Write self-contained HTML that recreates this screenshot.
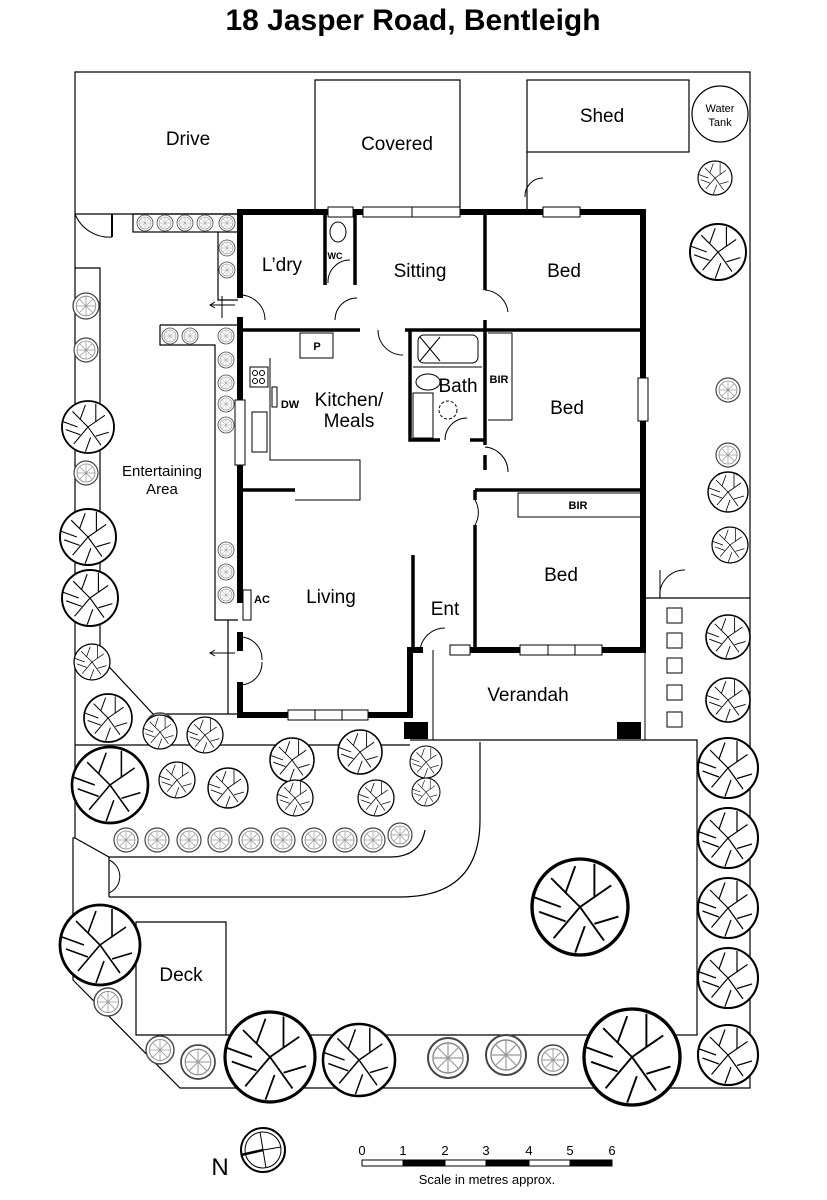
<!DOCTYPE html>
<html><head><meta charset="utf-8"><style>
body{margin:0;background:#fff}
svg{display:block}
text{font-family:"Liberation Sans",Arial,sans-serif;fill:#000}
</style></head><body>
<svg width="827" height="1200" viewBox="0 0 827 1200" xmlns="http://www.w3.org/2000/svg">
<defs>
<g id="tr"><circle r="1" fill="#fff" stroke="#000" stroke-width="0.07"/><path d="M0,0 L-0.6,-0.6 M0,0 L0.65,-0.45 M0,0 L0.5,0.7 M0,0 L-0.55,0.65 M-0.3,-0.3 L-0.1,-0.85 M0.3,0.35 L0.8,0.2 M-0.3,0.3 L-0.85,0.1 M0.3,-0.2 L0.3,-0.9 M0.1,0.4 L-0.1,0.95 M-0.4,0 L-0.95,-0.2" stroke="#000" stroke-width="0.04" fill="none"/></g>
<g id="ts"><circle r="1" fill="#fff" stroke="#444" stroke-width="0.1"/><circle r="0.75" fill="none" stroke="#888" stroke-width="0.07"/><path d="M0,-0.7 L0,0.7 M-0.7,0 L0.7,0 M-0.5,-0.5 L0.5,0.5 M0.5,-0.5 L-0.5,0.5" stroke="#999" stroke-width="0.06"/></g>
</defs>
<text x="413" y="30" font-size="30" font-weight="bold" text-anchor="middle">18 Jasper Road, Bentleigh</text>

<g fill="none" stroke="#000" stroke-width="1.2">
<polyline points="73,980 73,838 75,838 75,72 750,72 750,598"/>
<polyline points="750,598 750,1088 180,1088 73,980"/>
<line x1="645" y1="598" x2="750" y2="598"/>
<polyline points="315,212 315,80 460,80 460,212"/>
<rect x="527" y="80" width="162" height="72"/>
<polyline points="527,152 527,212"/>
<circle cx="720" cy="114" r="28"/>
<polyline points="75,214 112,214"/>
<line x1="112" y1="214" x2="112" y2="237" stroke-width="2"/>
<polyline points="112,214 240,214"/>
<rect x="133" y="214" width="105" height="18"/>
<polyline points="218,232 218,300 238,300"/>
<polyline points="160,325 160,345 215,345 215,620 238,620"/>
<line x1="160" y1="325" x2="238" y2="325"/>
<polyline points="75,268 100,268 100,657 153,714 240,714"/>
<line x1="228" y1="620" x2="228" y2="714"/>
<polyline points="75,745 410,745"/>
<polyline points="410,740 697,740 697,1035 136,1035 136,922 226,922 226,1035"/>
<path d="M109,897 L400,897 Q480,897 480,820 L480,742"/>
<path d="M75,838 L109,857 L390,857 Q420,857 425,830"/>
<line x1="109" y1="857" x2="109" y2="897"/>
</g>

<g stroke="#000" stroke-width="6" fill="none" stroke-linecap="square">
<polyline points="240,212 643,212 643,650 470,650"/>
<polyline points="240,212 240,295"/>
<polyline points="240,320 240,400"/>
<polyline points="240,465 240,600"/>
<polyline points="240,635 240,648"/>
<polyline points="240,685 240,715 410,715 410,650 420,650"/>
<polyline points="455,650 470,650"/>
</g>
<g stroke="#000" stroke-width="3.5" fill="none">
<line x1="240" y1="330" x2="360" y2="330"/>
<line x1="405" y1="330" x2="643" y2="330"/>
<line x1="325" y1="215" x2="325" y2="285"/>
<line x1="355" y1="215" x2="355" y2="285"/>
<line x1="485" y1="212" x2="485" y2="290"/>
<line x1="485" y1="320" x2="485" y2="445"/>
<polyline points="410,330 410,440 440,440"/>
<polyline points="470,440 485,440"/>
<line x1="485" y1="455" x2="485" y2="470"/>
<line x1="475" y1="490" x2="643" y2="490"/>
<line x1="475" y1="490" x2="475" y2="500"/>
<line x1="475" y1="525" x2="475" y2="650"/>
<line x1="240" y1="490" x2="295" y2="490"/>
<line x1="413" y1="555" x2="413" y2="650"/>
</g>
<g fill="#fff" stroke="#000" stroke-width="1">
<rect x="328" y="207" width="25" height="10"/>
<rect x="363" y="207" width="97" height="10"/>
<rect x="543" y="207" width="37" height="10"/>
<rect x="638" y="378" width="10" height="43"/>
<rect x="235" y="400" width="10" height="65"/>
<rect x="288" y="710" width="80" height="10"/>
<rect x="520" y="645" width="82" height="10"/>
<rect x="450" y="645" width="20" height="10"/>
</g>
<g stroke="#000" stroke-width="1" fill="none">
<line x1="412" y1="207" x2="412" y2="217"/>
<line x1="315" y1="710" x2="315" y2="720"/><line x1="342" y1="710" x2="342" y2="720"/>
<line x1="548" y1="645" x2="548" y2="655"/><line x1="575" y1="645" x2="575" y2="655"/>
<path d="M240,295 A25,25 0 0 1 265,320"/>
<path d="M335,320 A22,22 0 0 1 357,298"/>
<path d="M378,330 A25,25 0 0 0 403,355"/>
<path d="M485,290 A25,25 0 0 1 508,312"/>
<path d="M445,440 A22,22 0 0 1 467,418"/>
<path d="M485,447 A25,25 0 0 1 508,472"/>
<path d="M475,500 A25,25 0 0 1 475,525"/>
<path d="M420,650 A25,25 0 0 1 445,628"/>
<path d="M240,637 A22,22 0 0 1 262,660"/>
<path d="M240,685 A22,22 0 0 0 262,662"/>
<path d="M328,283 A22,22 0 0 1 350,260"/>
<path d="M75,214 A37,37 0 0 0 112,237"/>
<path d="M660,598 A25,25 0 0 1 685,570 M660,570 L660,598"/>
<path d="M109,860 A18,18 0 0 1 109,893"/>
<path d="M525,197 A18,18 0 0 1 543,178"/>
<ellipse cx="338" cy="232" rx="8" ry="10"/>
<rect x="300" y="333" width="33" height="25"/>
<polyline points="270,358 270,460 360,460 360,500 295,500"/>
<line x1="333" y1="333" x2="333" y2="355"/>
<rect x="250" y="367" width="18" height="20"/>
<circle cx="255" cy="373" r="2.5"/><circle cx="262" cy="373" r="2.5"/><circle cx="255" cy="381" r="2.5"/><circle cx="262" cy="381" r="2.5"/>
<rect x="252" y="412" width="15" height="40"/>
<rect x="272" y="387" width="5" height="20"/>
<rect x="418" y="335" width="60" height="28" rx="6"/>
<line x1="420" y1="337" x2="440" y2="361"/><line x1="440" y1="337" x2="420" y2="361"/>
<line x1="413" y1="367" x2="482" y2="367"/>
<ellipse cx="428" cy="382" rx="12" ry="8"/>
<rect x="413" y="393" width="20" height="45"/>
<circle cx="448" cy="410" r="9" stroke-dasharray="3,2"/>
<polyline points="488,333 512,333 512,420 488,420"/>
<rect x="518" y="493" width="123" height="24"/>
<rect x="243" y="590" width="8" height="30"/>
<polyline points="433,650 433,740"/>
<polyline points="645,600 645,740"/>
</g>
<rect x="404" y="722" width="24" height="17" fill="#000"/>
<rect x="617" y="722" width="24" height="17" fill="#000"/>
<g fill="#fff" stroke="#000"><rect x="667" y="608" width="15" height="15"/><rect x="667" y="633" width="15" height="15"/><rect x="667" y="658" width="15" height="15"/><rect x="667" y="685" width="15" height="15"/><rect x="667" y="712" width="15" height="15"/></g>
<g stroke="#000" fill="none"><path d="M210,305 L235,305 M215,302 L210,305 L215,308"/><path d="M210,653 L235,653 M215,650 L210,653 L215,656"/><line x1="222" y1="296" x2="222" y2="318"/></g>

<g>
<use href="#ts" transform="translate(145,223) scale(8)"/><use href="#ts" transform="translate(165,223) scale(8)"/><use href="#ts" transform="translate(185,223) scale(8)"/><use href="#ts" transform="translate(205,223) scale(8)"/><use href="#ts" transform="translate(227,223) scale(8)"/>
<use href="#ts" transform="translate(227,248) scale(8)"/><use href="#ts" transform="translate(227,270) scale(8)"/>
<use href="#ts" transform="translate(170,336) scale(8)"/><use href="#ts" transform="translate(190,336) scale(8)"/><use href="#ts" transform="translate(226,336) scale(8)"/>
<use href="#ts" transform="translate(226,360) scale(8)"/><use href="#ts" transform="translate(226,383) scale(8)"/><use href="#ts" transform="translate(226,404) scale(8)"/><use href="#ts" transform="translate(226,425) scale(8)"/>
<use href="#ts" transform="translate(226,550) scale(8)"/><use href="#ts" transform="translate(226,572) scale(8)"/><use href="#ts" transform="translate(226,595) scale(8)"/>
<use href="#ts" transform="translate(86,306) scale(13)"/><use href="#ts" transform="translate(86,350) scale(12)"/><use href="#ts" transform="translate(86,473) scale(12)"/>
<use href="#ts" transform="translate(160,728) scale(15)"/><use href="#ts" transform="translate(728,390) scale(12)"/><use href="#ts" transform="translate(728,455) scale(12)"/>
<use href="#ts" transform="translate(126,840) scale(12)"/><use href="#ts" transform="translate(157,840) scale(12)"/><use href="#ts" transform="translate(189,840) scale(12)"/><use href="#ts" transform="translate(220,840) scale(12)"/><use href="#ts" transform="translate(251,840) scale(12)"/><use href="#ts" transform="translate(283,840) scale(12)"/><use href="#ts" transform="translate(314,840) scale(12)"/><use href="#ts" transform="translate(345,840) scale(12)"/><use href="#ts" transform="translate(373,840) scale(12)"/><use href="#ts" transform="translate(400,835) scale(12)"/>
<use href="#ts" transform="translate(108,1002) scale(14)"/><use href="#ts" transform="translate(160,1050) scale(14)"/><use href="#ts" transform="translate(198,1062) scale(17)"/><use href="#ts" transform="translate(448,1058) scale(20)"/><use href="#ts" transform="translate(506,1055) scale(20)"/><use href="#ts" transform="translate(553,1060) scale(15)"/>
</g>
<g>
<use href="#tr" transform="translate(715,178) scale(17)"/><use href="#tr" transform="translate(718,252) scale(28)"/><use href="#tr" transform="translate(728,492) scale(20)"/><use href="#tr" transform="translate(730,545) scale(18)"/>
<use href="#tr" transform="translate(728,637) scale(22)"/><use href="#tr" transform="translate(728,700) scale(22)"/><use href="#tr" transform="translate(728,768) scale(30)"/><use href="#tr" transform="translate(728,838) scale(30)"/><use href="#tr" transform="translate(728,908) scale(30)"/><use href="#tr" transform="translate(728,978) scale(30)"/><use href="#tr" transform="translate(728,1055) scale(30)"/>
<use href="#tr" transform="translate(88,427) scale(26)"/><use href="#tr" transform="translate(88,537) scale(28)"/><use href="#tr" transform="translate(90,598) scale(28)"/><use href="#tr" transform="translate(92,662) scale(18)"/><use href="#tr" transform="translate(108,718) scale(24)"/><use href="#tr" transform="translate(160,732) scale(17)"/><use href="#tr" transform="translate(205,735) scale(18)"/>
<use href="#tr" transform="translate(110,785) scale(38)"/><use href="#tr" transform="translate(177,780) scale(18)"/><use href="#tr" transform="translate(228,788) scale(20)"/><use href="#tr" transform="translate(292,760) scale(22)"/><use href="#tr" transform="translate(360,752) scale(22)"/><use href="#tr" transform="translate(295,798) scale(18)"/><use href="#tr" transform="translate(376,798) scale(18)"/><use href="#tr" transform="translate(426,762) scale(16)"/><use href="#tr" transform="translate(426,792) scale(14)"/>
<use href="#tr" transform="translate(100,945) scale(40)"/><use href="#tr" transform="translate(270,1057) scale(45)"/><use href="#tr" transform="translate(359,1060) scale(36)"/><use href="#tr" transform="translate(632,1057) scale(48)"/><use href="#tr" transform="translate(580,907) scale(48)"/>
</g>

<g font-size="19">
<text x="188" y="145" text-anchor="middle">Drive</text>
<text x="397" y="150" text-anchor="middle">Covered</text>
<text x="602" y="122" text-anchor="middle">Shed</text>
<text x="282" y="271" text-anchor="middle">L’dry</text>
<text x="420" y="277" text-anchor="middle">Sitting</text>
<text x="564" y="277" text-anchor="middle">Bed</text>
<text x="349" y="406" text-anchor="middle">Kitchen/</text>
<text x="349" y="427" text-anchor="middle">Meals</text>
<text x="458" y="392" text-anchor="middle">Bath</text>
<text x="567" y="414" text-anchor="middle">Bed</text>
<text x="561" y="581" text-anchor="middle">Bed</text>
<text x="331" y="603" text-anchor="middle">Living</text>
<text x="445" y="615" text-anchor="middle">Ent</text>
<text x="528" y="701" text-anchor="middle">Verandah</text>
<text x="181" y="981" text-anchor="middle">Deck</text>
</g>
<g font-size="15"><text x="162" y="476" text-anchor="middle">Entertaining</text><text x="162" y="494" text-anchor="middle">Area</text></g>
<g font-size="11"><text x="720" y="112" text-anchor="middle">Water</text><text x="720" y="126" text-anchor="middle">Tank</text></g>
<g font-size="11" font-weight="bold">
<text x="335" y="259" text-anchor="middle" font-size="9">WC</text>
<text x="317" y="350" text-anchor="middle">P</text>
<text x="290" y="408" text-anchor="middle">DW</text>
<text x="499" y="383" text-anchor="middle">BIR</text>
<text x="578" y="509" text-anchor="middle">BIR</text>
<text x="262" y="603" text-anchor="middle">AC</text>
</g>
<text x="220" y="1175" font-size="24" text-anchor="middle">N</text>
<circle cx="263" cy="1150" r="22" fill="none" stroke="#000" stroke-width="2"/>
<circle cx="263" cy="1150" r="18" fill="none" stroke="#000" stroke-width="1"/>
<line x1="260" y1="1132" x2="266" y2="1168" stroke="#000"/><line x1="263" y1="1150" x2="281" y2="1147" stroke="#000"/>
<line x1="241" y1="1155" x2="263" y2="1150" stroke="#000" stroke-width="2.5"/>
<g stroke="#000" stroke-width="1"><rect x="362" y="1160" width="250" height="6" fill="#fff"/>
<rect x="403" y="1160" width="42" height="6" fill="#000"/><rect x="486" y="1160" width="43" height="6" fill="#000"/><rect x="570" y="1160" width="42" height="6" fill="#000"/></g>
<g font-size="13" text-anchor="middle"><text x="362" y="1155">0</text><text x="403" y="1155">1</text><text x="445" y="1155">2</text><text x="486" y="1155">3</text><text x="529" y="1155">4</text><text x="570" y="1155">5</text><text x="612" y="1155">6</text></g>
<text x="487" y="1184" font-size="13" text-anchor="middle">Scale in metres approx.</text>
</svg>
</body></html>
